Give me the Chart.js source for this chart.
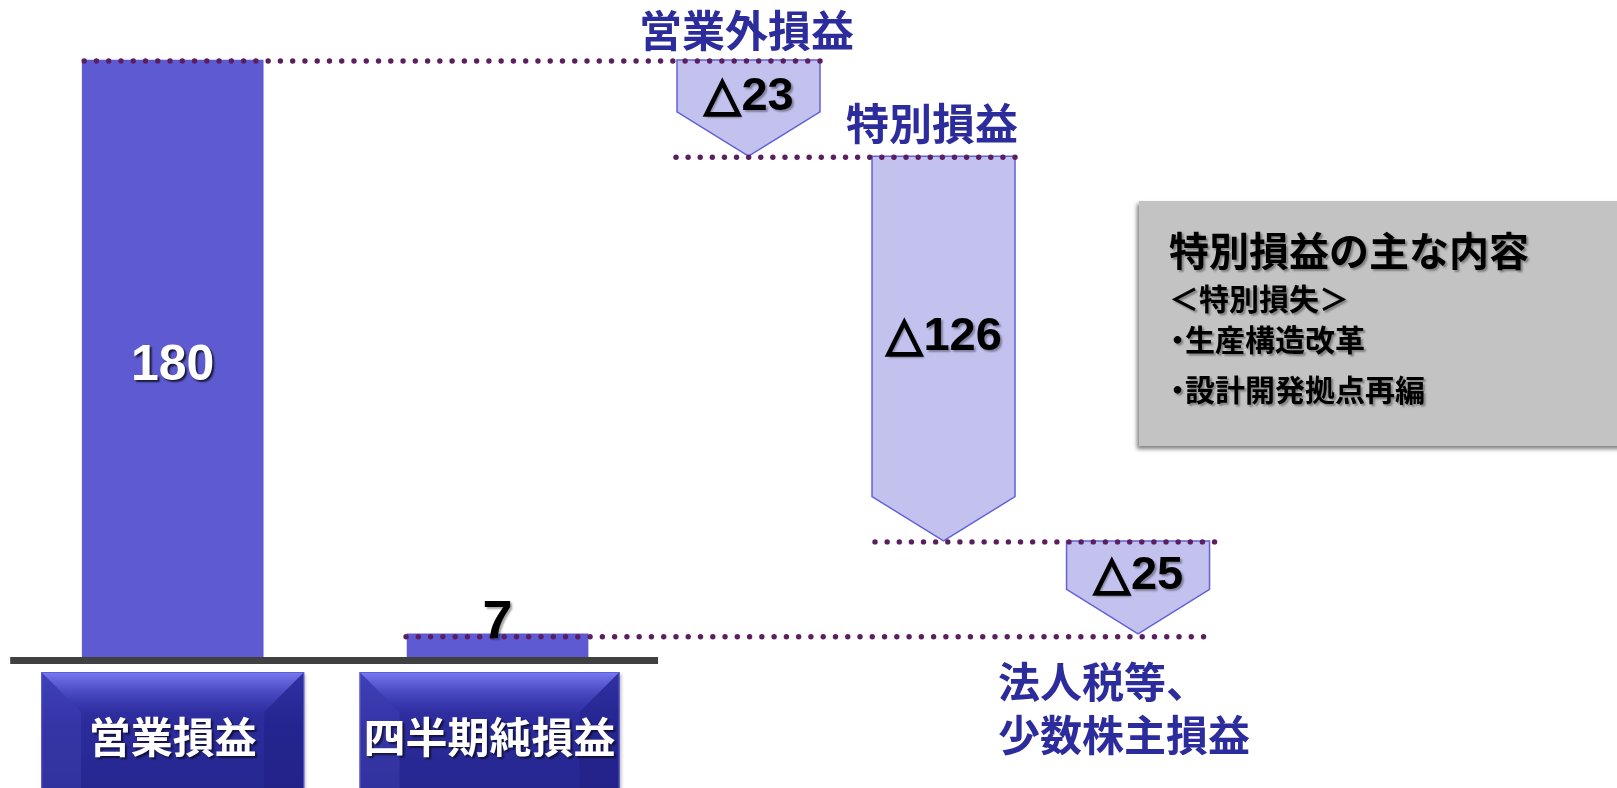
<!DOCTYPE html>
<html lang="ja">
<head>
<meta charset="utf-8">
<title>営業損益から四半期純損益へ</title>
<script src="https://cdn.jsdelivr.net/npm/chart.js@4.4.1/dist/chart.umd.min.js"></script>
<style>
	html, body { margin: 0; padding: 0; background: #fff; }
	.page { position: relative; width: 1617px; height: 788px; overflow: hidden; }
	.chart-container { position: absolute; left: 0; top: 0; width: 1617px; height: 788px; }
	.note { position: absolute; left: 1139px; top: 201px; width: 500px; height: 245px; background: #c3c3c3;
		box-shadow: -2px 3px 4px rgba(0, 0, 0, .5); font-family: "Noto Sans CJK JP", sans-serif; font-weight: 700;
		color: #000; text-shadow: 2px 2px 2px rgba(0, 0, 0, .35); }
	.note div { position: absolute; left: 30px; white-space: nowrap; line-height: 1; }
	.note .title { font-size: 40px; }
	.note .sub { font-size: 30px; }
	.note .bullet { font-feature-settings: "palt"; left: 31px; }
</style>
</head>
<body>
<div class="page">
	<div class="chart-container"><canvas id="chart"></canvas></div>
	<div class="note" id="note"></div>
</div>
<script>
(function() {
	'use strict';

	var categoryLabels = [['営業損益'], ['四半期純損益'], ['営業外損益'], ['特別損益'], ['法人税等、', '少数株主損益']];
	var totalValues = [180, 7];
	var changeValues = [-23, -126, -25];
	// levels as the arrows are drawn in the picture (it is not to scale)
	var changeFrom = [180, 151, 35];
	var changeTo = [151, 35, 7];

	var noteTitle = '特別損益の主な内容';
	var noteLines = ['＜特別損失＞', '・生産構造改革', '・設計開発拠点再編'];

	// layout: slot centres on a 0-100 x axis
	var slotX = [10.68, 30.77, 46.29, 58.35, 70.38];

	var JP = '"Noto Sans CJK JP", sans-serif';
	var NUM = '"Liberation Sans", "DejaVu Sans", sans-serif';

	function shadow(ctx, color, dx, dy, blur) {
		ctx.shadowColor = color;
		ctx.shadowOffsetX = dx;
		ctx.shadowOffsetY = dy;
		ctx.shadowBlur = blur;
	}

	function dots(ctx, x0, x1, y) {
		var n = Math.max(1, Math.round((x1 - x0) / 12.3));
		var step = (x1 - x0) / n;
		ctx.save();
		ctx.fillStyle = '#5b1f5f';
		for (var i = 0; i <= n; i++) {
			ctx.beginPath();
			ctx.arc(x0 + i * step, y, 2.7, 0, Math.PI * 2);
			ctx.fill();
		}
		ctx.restore();
	}

	// "△23" style label, the triangle drawn a little heavier
	function deltaText(ctx, v, x, y) {
		if (v >= 0) {
			ctx.fillText(String(v), x, y);
			return;
		}
		var tri = '△', num = String(Math.abs(v));
		var wt = ctx.measureText(tri).width, wn = ctx.measureText(num).width;
		var left = x - (wt + wn) / 2;
		ctx.save();
		ctx.textAlign = 'left';
		ctx.fillText(tri, left, y);
		ctx.shadowColor = 'transparent';
		ctx.strokeStyle = ctx.fillStyle;
		ctx.lineWidth = 2.2;
		ctx.strokeText(tri, left, y);
		ctx.restore();
		ctx.save();
		ctx.textAlign = 'left';
		ctx.fillText(num, left + wt + 1, y);
		ctx.restore();
	}

	function plate(ctx, cx, top, w, h, text) {
		var x0 = cx - w / 2, x1 = cx + w / 2, y1 = top + h, b = 40;
		ctx.save();
		shadow(ctx, 'rgba(0,0,0,0.25)', 2, 2, 3);
		var g = ctx.createLinearGradient(0, top, 0, y1);
		g.addColorStop(0, '#3a3ab2');
		g.addColorStop(0.4, '#2b2b9b');
		g.addColorStop(1, '#26268f');
		ctx.fillStyle = g;
		ctx.fillRect(x0, top, w, h);
		shadow(ctx, 'transparent', 0, 0, 0);

		var gt = ctx.createLinearGradient(0, top, 0, top + b);
		gt.addColorStop(0, '#7a7af2');
		gt.addColorStop(1, 'rgba(58,58,178,0.2)');
		ctx.fillStyle = gt;
		ctx.beginPath();
		ctx.moveTo(x0, top);
		ctx.lineTo(x1, top);
		ctx.lineTo(x1 - b, top + b);
		ctx.lineTo(x0 + b, top + b);
		ctx.closePath();
		ctx.fill();

		ctx.fillStyle = 'rgba(90,90,210,0.22)';
		ctx.beginPath();
		ctx.moveTo(x0, top);
		ctx.lineTo(x0 + b, top + b);
		ctx.lineTo(x0 + b, y1);
		ctx.lineTo(x0, y1);
		ctx.closePath();
		ctx.fill();
		ctx.fillStyle = 'rgba(20,20,110,0.22)';
		ctx.beginPath();
		ctx.moveTo(x1, top);
		ctx.lineTo(x1 - b, top + b);
		ctx.lineTo(x1 - b, y1);
		ctx.lineTo(x1, y1);
		ctx.closePath();
		ctx.fill();

		ctx.strokeStyle = '#5c5cd4';
		ctx.lineWidth = 1;
		ctx.strokeRect(x0 + 0.5, top + 0.5, w - 1, h);

		shadow(ctx, 'rgba(0,0,0,0.6)', 2, 2, 2);
		ctx.fillStyle = '#fff';
		ctx.font = '700 42px ' + JP;
		ctx.textAlign = 'center';
		ctx.textBaseline = 'middle';
		ctx.fillText(text, cx, top + 65);
		ctx.restore();
	}

	var waterfallPlugin = {
		id: 'waterfall',
		afterDatasetsDraw: function(chart) {
			var ctx = chart.ctx;
			var bars = chart.getDatasetMeta(0).data.map(function(el) {
				return el.getProps(['x', 'y', 'base', 'width'], true);
			});
			var arrows = chart.getDatasetMeta(1).data.map(function(el) {
				var p = el.getProps(['x', 'y', 'base', 'width'], true);
				var top = Math.min(p.y, p.base), tip = Math.max(p.y, p.base);
				return { x: p.x, top: top, tip: tip, half: p.width / 2, shoulder: tip - p.width * 0.31 };
			});

			// arrows
			ctx.save();
			arrows.forEach(function(a) {
				ctx.beginPath();
				ctx.moveTo(a.x - a.half, a.top);
				ctx.lineTo(a.x + a.half, a.top);
				ctx.lineTo(a.x + a.half, a.shoulder);
				ctx.lineTo(a.x, a.tip);
				ctx.lineTo(a.x - a.half, a.shoulder);
				ctx.closePath();
				ctx.fillStyle = '#c3c2ef';
				ctx.fill();
				ctx.strokeStyle = '#6262d8';
				ctx.lineWidth = 1.5;
				ctx.stroke();
			});
			ctx.restore();

			// base line and category plates
			var b0 = bars[0], b1 = bars[1];
			ctx.fillStyle = '#404040';
			ctx.fillRect(b0.x - b0.width / 2 - 72, b0.base, (b1.x + b1.width / 2 + 70) - (b0.x - b0.width / 2 - 72), 7);
			plate(ctx, b0.x, b0.base + 15, 263, 130, categoryLabels[0][0]);
			plate(ctx, b1.x - 8, b1.base + 15, 260, 130, categoryLabels[1][0]);

			// dotted connectors
			dots(ctx, b0.x - b0.width / 2 + 2, arrows[0].x + arrows[0].half, b0.y + 1);
			dots(ctx, arrows[0].x - arrows[0].half - 1, arrows[1].x + arrows[1].half, arrows[0].tip + 1);
			dots(ctx, arrows[1].x - arrows[1].half + 3, arrows[2].x + arrows[2].half + 5, arrows[1].tip + 1);
			dots(ctx, b1.x - b1.width / 2 - 1, arrows[2].x + arrows[2].half - 6, b1.y + 3);

			// values
			ctx.save();
			ctx.textAlign = 'center';
			ctx.textBaseline = 'middle';
			shadow(ctx, 'rgba(0,0,0,0.75)', 2, 2, 2);
			ctx.fillStyle = '#fff';
			ctx.font = '700 50px ' + NUM;
			ctx.fillText(String(totalValues[0]), b0.x, (b0.y + b0.base) / 2 + 8);
			shadow(ctx, 'rgba(0,0,0,0.35)', 2, 2, 2);
			ctx.fillStyle = '#000';
			ctx.font = '700 54px ' + NUM;
			ctx.textBaseline = 'alphabetic';
			ctx.fillText(String(totalValues[1]), b1.x, b1.y + 4);
			ctx.textBaseline = 'middle';
			ctx.font = '700 47px ' + NUM;
			arrows.forEach(function(a, i) {
				deltaText(ctx, changeValues[i], a.x, (a.top + a.shoulder) / 2 + 11);
			});
			ctx.restore();

			// category names next to the arrows
			ctx.save();
			ctx.fillStyle = '#2c2c9c';
			ctx.font = '700 43px ' + JP;
			ctx.textBaseline = 'middle';
			ctx.textAlign = 'center';
			ctx.fillText(categoryLabels[2][0], arrows[0].x - 2, arrows[0].top - 29);
			ctx.textAlign = 'right';
			ctx.fillText(categoryLabels[3][0], arrows[1].x + arrows[1].half + 3, arrows[1].top - 33);
			ctx.textAlign = 'left';
			ctx.font = '700 42px ' + JP;
			categoryLabels[4].forEach(function(line, i) {
				ctx.fillText(line, arrows[2].x - 140, arrows[2].tip + 48 + i * 53);
			});
			ctx.restore();
		}
	};

	var note = document.getElementById('note');
	var noteTops = [28, 81, 122, 172];
	[noteTitle].concat(noteLines).forEach(function(t, i) {
		var d = document.createElement('div');
		d.className = i === 0 ? 'title' : (i === 1 ? 'sub' : 'sub bullet');
		d.style.top = noteTops[i] + 'px';
		d.textContent = t;
		note.appendChild(d);
	});

	var ctx = document.getElementById('chart').getContext('2d');
	new Chart(ctx, {
		type: 'bar',
		data: {
			datasets: [{
				label: '損益',
				data: totalValues.map(function(v, i) { return { x: slotX[i], y: v }; }),
				backgroundColor: '#5e5bd2',
				borderWidth: 0,
				barThickness: 181,
				stack: 'all'
			}, {
				label: '増減',
				data: changeValues.map(function(v, i) { return { x: slotX[i + 2], y: [changeFrom[i], changeTo[i]] }; }),
				backgroundColor: 'rgba(0,0,0,0)',
				borderWidth: 0,
				barThickness: 143,
				stack: 'all'
			}]
		},
		options: {
			responsive: true,
			maintainAspectRatio: false,
			animation: false,
			events: [],
			layout: { padding: 0 },
			plugins: { legend: { display: false }, tooltip: { enabled: false } },
			scales: {
				x: { type: 'linear', min: 0, max: 100, offset: false, display: false },
				y: { min: -39.5, max: 198.1, stacked: false, display: false }
			}
		},
		plugins: [waterfallPlugin]
	});
})();
</script>
</body>
</html>
